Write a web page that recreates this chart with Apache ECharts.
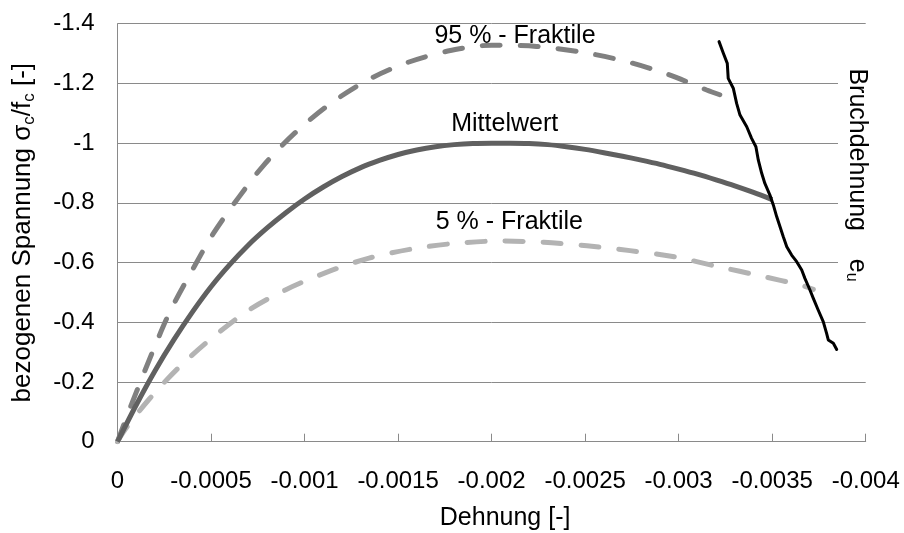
<!DOCTYPE html>
<html><head><meta charset="utf-8">
<script src="https://cdn.jsdelivr.net/npm/echarts@6/dist/echarts.min.js"></script>
<style>html,body{margin:0;padding:0;background:#fff}#c{width:904px;height:533px}</style>
</head><body><div id="c"></div>
<script>
// ---- data (strain [-], normalised stress sigma_c/f_c [-]) ----
const mittelwert = [
  [0,0],[-0.0001,-0.123],[-0.0002,-0.237],[-0.0003,-0.34],[-0.0004,-0.434],[-0.0005,-0.519],
  [-0.0006,-0.593],[-0.0007,-0.659],[-0.0008,-0.716],[-0.0009,-0.767],[-0.001,-0.813],
  [-0.0011,-0.853],[-0.0012,-0.888],[-0.0013,-0.918],[-0.0014,-0.942],[-0.0015,-0.962],
  [-0.0016,-0.977],[-0.0017,-0.988],[-0.0018,-0.995],[-0.0019,-0.999],[-0.002,-1.0],[-0.0021,-1.0],
  [-0.0022,-0.999],[-0.0023,-0.995],[-0.0024,-0.988],[-0.0025,-0.979],[-0.0026,-0.968],
  [-0.0027,-0.956],[-0.0028,-0.943],[-0.0029,-0.929],[-0.003,-0.913],[-0.0031,-0.896],
  [-0.0032,-0.877],[-0.0033,-0.857],[-0.0034,-0.835],[-0.0035,-0.811]
];
const fraktile95 = [
  [0,0],[-0.00005,-0.085],[-0.0001,-0.165],[-0.00019,-0.305],[-0.00028,-0.435],[-0.0004,-0.575],
  [-0.00051,-0.695],[-0.00065,-0.82],[-0.00078,-0.925],[-0.00095,-1.035],[-0.00114,-1.133],
  [-0.00134,-1.212],[-0.00155,-1.27],[-0.00178,-1.31],[-0.002,-1.328],[-0.00224,-1.324],
  [-0.00248,-1.305],[-0.00271,-1.275],[-0.00294,-1.231],[-0.00315,-1.178],[-0.00322,-1.162]
];
const fraktile5 = [
  [0,0],[-0.00004,-0.04],[-0.00017,-0.143],[-0.00033,-0.25],[-0.00051,-0.35],[-0.0007,-0.44],
  [-0.0009,-0.509],[-0.00112,-0.568],[-0.00134,-0.614],[-0.00157,-0.645],[-0.0018,-0.664],
  [-0.00204,-0.672],[-0.00228,-0.668],[-0.00251,-0.656],[-0.00274,-0.64],[-0.00298,-0.619],
  [-0.0032,-0.588],[-0.00344,-0.555],[-0.00366,-0.523],[-0.00372,-0.51]
];
const bruchdehnung = [
  [-0.003216,-1.34],[-0.003239,-1.301],[-0.00326,-1.267],[-0.003265,-1.217],[-0.003292,-1.184],
  [-0.00331,-1.133],[-0.003328,-1.094],[-0.003364,-1.055],[-0.00339,-1.016],[-0.003413,-0.988],
  [-0.003426,-0.943],[-0.003444,-0.899],[-0.003461,-0.865],[-0.003488,-0.826],[-0.003506,-0.793],
  [-0.003524,-0.754],[-0.003542,-0.72],[-0.003559,-0.687],[-0.003578,-0.653],[-0.003604,-0.625],
  [-0.003631,-0.603],[-0.003658,-0.575],[-0.003675,-0.547],[-0.003702,-0.508],[-0.00372,-0.48],
  [-0.003746,-0.441],[-0.003773,-0.402],[-0.003791,-0.363],[-0.0038,-0.341],[-0.003827,-0.33],[-0.003845,-0.309]
];
const annotations = [
  {text:'95 % - Fraktile', at:[-0.002125,-1.36]},
  {text:'Mittelwert', at:[-0.00207,-1.064]},
  {text:'5 % - Fraktile', at:[-0.002095,-0.736]}
];
const xTitle = 'Dehnung [-]';
const yTitle = 'bezogenen Spannung σ{sub|c}/f{sub|c} [-]';
const sideLabel = 'Bruchdehnung    e{sub|u}';

const FONT = 'Liberation Sans, Arial, sans-serif';
const chart = echarts.init(document.getElementById('c'), null, {renderer:'canvas'});
const gray = '#8a8a8a';
chart.setOption({
  animation:false,
  backgroundColor:'#fff',
  grid:{left:117.5, right:38.3, top:23.7, bottom:91.3, containLabel:false, outerBoundsMode:'none'},
  xAxis:{
    type:'value', min:-0.004, max:0, interval:0.0005, inverse:true,
    axisLine:{show:true, onZero:false, lineStyle:{color:gray, width:1}},
    axisTick:{show:true, inside:true, length:8, lineStyle:{color:gray}},
    splitLine:{show:false},
    axisLabel:{fontSize:24, fontFamily:FONT, color:'#000', margin:28,
      formatter:v=>String(parseFloat(v.toFixed(4)))},
    name:xTitle, nameLocation:'middle', nameGap:64,
    nameTextStyle:{fontSize:25, fontFamily:FONT, color:'#000', padding:[0,0,0,27]}
  },
  yAxis:{
    type:'value', min:-1.4, max:0, interval:0.2, inverse:true,
    axisLine:{show:true, onZero:false, lineStyle:{color:gray, width:1}},
    axisTick:{show:false},
    splitLine:{show:true, lineStyle:{color:gray, width:1}},
    axisLabel:{fontSize:24, fontFamily:FONT, color:'#000', margin:23,
      formatter:v=>String(parseFloat(v.toFixed(1)))},
    name:yTitle, nameLocation:'middle', nameGap:80,
    nameTextStyle:{fontSize:26, fontFamily:FONT, color:'#000',
      rich:{sub:{fontSize:17, fontFamily:FONT, color:'#000', verticalAlign:'bottom', padding:[12,0,0,0]}}}
  },
  series:[
    {type:'line', name:'95 % - Fraktile', data:fraktile95, showSymbol:false, smooth:0.3, z:3,
      lineStyle:{color:'#808080', width:5, type:[18,20], cap:'round'}},
    {type:'line', name:'5 % - Fraktile', data:fraktile5, showSymbol:false, smooth:0.3, z:3,
      lineStyle:{color:'#b3b3b3', width:5, type:[18,20], cap:'round'}},
    {type:'line', name:'Mittelwert', data:mittelwert, showSymbol:false, smooth:0.3, z:4,
      lineStyle:{color:'#606060', width:5}},
    {type:'line', name:'Bruchdehnung', data:bruchdehnung, showSymbol:false, smooth:false, z:5,
      lineStyle:{color:'#000', width:3, join:'round', cap:'round'}}
  ]
});

const g = [{type:'rect', shape:{x:838, y:40, width:32, height:255}, style:{fill:'#fff'}, z:10}];
annotations.forEach(a=>{
  const p = chart.convertToPixel({gridIndex:0}, a.at);
  g.push({type:'text', x:p[0], y:p[1], z:20,
    style:{text:a.text, align:'center', verticalAlign:'middle', fontSize:25, fontFamily:FONT, fill:'#000'}});
});
g.push({type:'text', x:857, y:175, rotation:-Math.PI/2, z:20,
  style:{text:sideLabel, align:'center', verticalAlign:'middle', fontSize:25, fontFamily:FONT, fill:'#000',
    rich:{sub:{fontSize:16, fontFamily:FONT, fill:'#000', verticalAlign:'bottom', padding:[12,0,0,0]}}}});
chart.setOption({graphic:g});
</script>
</body></html>
